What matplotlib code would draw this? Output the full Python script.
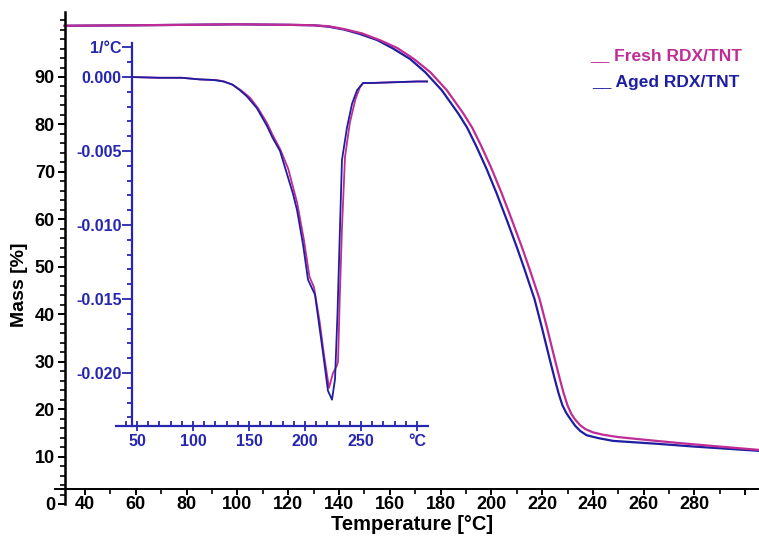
import numpy as np
import matplotlib
matplotlib.use('Agg')
import matplotlib.pyplot as plt
from matplotlib.ticker import FixedLocator, FixedFormatter

plt.rcParams['font.family'] = ['Liberation Sans', 'DejaVu Sans']
plt.rcParams['font.weight'] = 'bold'

# TG curves (main axes)
t_fresh = [32, 60, 80, 100, 120, 130, 136, 142, 149, 156, 163, 169.5, 176, 182.5, 189,
           192.5, 196, 200, 204, 208, 212, 215, 219, 222, 225, 227, 228.5, 230, 231.5,
           233, 235, 237, 240, 244, 250, 265, 277, 290, 305.5]
m_fresh = [100.8, 100.9, 101.0, 101.1, 101.0, 100.9, 100.7, 100.1, 99.2, 97.8, 96.1,
           93.8, 91.0, 87.2, 82.3, 79.3, 75.5, 70.8, 65.6, 60.0, 54.2, 49.6, 43.2, 37.0,
           30.5, 26.3, 23.3, 20.8, 19.0, 17.8, 16.6, 15.8, 15.1, 14.6, 14.1, 13.3, 12.7,
           12.1, 11.4]
t_aged = [32, 60, 80, 100, 120, 130, 136, 142, 148, 155, 161, 168, 174, 180.5, 187,
          190.5, 194, 198, 202, 206, 210, 213, 217, 220, 223, 225, 226.5, 228, 229.5,
          231, 233, 235, 237.5, 242, 248, 265, 280, 305.5]
m_aged = [100.8, 100.9, 101.0, 101.1, 101.0, 100.9, 100.6, 100.0, 99.1, 97.8, 96.1,
          93.8, 91.0, 87.2, 82.3, 79.3, 75.5, 70.8, 65.6, 60.0, 54.2, 49.6, 43.2, 37.0,
          30.5, 26.3, 23.3, 20.8, 19.2, 18.0, 16.5, 15.4, 14.5, 13.9, 13.3, 12.7, 12.1,
          11.2]

# DTG curves (inset)
ti_fresh = [45, 70, 90, 106, 121, 128, 136, 143, 151, 158, 166, 171, 178, 185, 193,
            199, 204, 208, 213, 217, 221.4, 225, 228.5, 229.5, 231, 233, 235.7, 240,
            245, 249, 252, 260, 280, 300, 310]
d_fresh = [0.0, -0.00005, -0.00005, -0.00016, -0.0002, -0.0003, -0.00055, -0.0009,
           -0.0014, -0.0021, -0.0031, -0.0039, -0.0049, -0.0062, -0.0085, -0.0110,
           -0.0135, -0.0142, -0.0165, -0.0188, -0.0210, -0.0200, -0.0195, -0.0192,
           -0.0150, -0.0102, -0.0054, -0.0031, -0.0015, -0.0007, -0.0004, -0.0004,
           -0.00035, -0.0003, -0.0003]
ti_aged = [45, 70, 90, 106, 118, 127, 135, 142, 148, 157, 166, 171, 177.7, 189.3,
           192.9, 198.2, 202.7, 208.9, 216, 220.5, 224.1, 226.8, 229, 231.2, 233,
           237.5, 242, 246.4, 251.8, 260, 280, 300, 309]
d_aged = [0.0, -0.00005, -0.00005, -0.00016, -0.0002, -0.0003, -0.0005, -0.0009,
          -0.0013, -0.0021, -0.0033, -0.0041, -0.0050, -0.0079, -0.0090, -0.0113,
          -0.0137, -0.0147, -0.0186, -0.0212, -0.0218, -0.0204, -0.0160, -0.0102,
          -0.0056, -0.0034, -0.0018, -0.0009, -0.0004, -0.0004, -0.00035, -0.0003,
          -0.0003]

main_xticks = [40, 60, 80, 100, 120, 140, 160, 180, 200, 220, 240, 260, 280, 300]
main_xlabels = ['40', '60', '80', '100', '120', '140', '160', '180', '200', '220',
                '240', '260', '280', '']
main_yticks = [0, 10, 20, 30, 40, 50, 60, 70, 80, 90]
ins_xticks = [50, 100, 150, 200, 250, 300]
ins_xlabels = ['50', '100', '150', '200', '250', '°C']
ins_yticks = [-0.020, -0.015, -0.010, -0.005, 0.0, 0.002]
ins_ylabels = ['-0.020', '-0.015', '-0.010', '-0.005', '0.000', '1/°C']

c_fresh = '#c02c95'
c_aged = '#1e1ea0'
c_ins = '#2626b0'

fig = plt.figure(figsize=(7.59, 5.39), dpi=100)
ax = fig.add_axes([55 / 759, 35 / 539, 704 / 759, 492 / 539])
ax.plot(t_aged, m_aged, color=c_aged, lw=1.6)
ax.plot(t_fresh, m_fresh, color=c_fresh, lw=1.6)
ax.set_xlim(28.2, 305.4)
ax.set_ylim(0, 103.7)
for s in ['top', 'right']:
    ax.spines[s].set_visible(False)
ax.spines['left'].set_position(('data', 32))
ax.spines['bottom'].set_position(('data', 3.1))
ax.spines['left'].set_linewidth(1.8)
ax.spines['bottom'].set_linewidth(1.4)
ax.xaxis.set_major_locator(FixedLocator(main_xticks))
ax.xaxis.set_major_formatter(FixedFormatter(main_xlabels))
ax.xaxis.set_minor_locator(FixedLocator(np.arange(50, 300, 20)))
ax.yaxis.set_major_locator(FixedLocator(main_yticks))
ax.yaxis.set_minor_locator(FixedLocator(np.arange(0, 104, 2)))
ax.tick_params(axis='both', which='major', direction='out', labelsize=13, width=1.4)
ax.tick_params(axis='x', which='major', length=4, pad=1)
ax.tick_params(axis='y', which='major', length=5, pad=2)
ax.tick_params(axis='both', which='minor', direction='out', length=3.5, width=1.2)

fig.text(20 / 759, 1 - 285 / 539, 'Mass [%]', rotation=90, ha='center', va='center',
         fontsize=14, fontweight='bold')
fig.text(412 / 759, 1 - 524 / 539, 'Temperature [°C]', ha='center', va='center',
         fontsize=14.5, fontweight='bold')

fig.text(590 / 759, 1 - 60 / 539, '__ Fresh RDX/TNT', color=c_fresh, fontsize=12.5,
         fontweight='bold', va='baseline')
fig.text(592 / 759, 1 - 87 / 539, '__ Aged RDX/TNT', color=c_aged, fontsize=12.5,
         fontweight='bold', va='baseline')

# inset DTG
ins = fig.add_axes([116 / 759, 113 / 539, 312 / 759, 383 / 539])
ins.patch.set_alpha(0)
ins.plot(ti_fresh, d_fresh, color=c_fresh, lw=1.3)
ins.plot(ti_aged, d_aged, color=c_aged, lw=1.3)
ins.set_xlim(31.25, 309.8)
ins.set_ylim(-0.02358, 0.0023)
for s in ['top', 'right']:
    ins.spines[s].set_visible(False)
ins.spines['left'].set_position(('data', 45.5))
for s in ['left', 'bottom']:
    ins.spines[s].set_color(c_ins)
    ins.spines[s].set_linewidth(1.6)
ins.xaxis.set_major_locator(FixedLocator(ins_xticks))
ins.xaxis.set_major_formatter(FixedFormatter(ins_xlabels))
ins.xaxis.set_minor_locator(FixedLocator(np.arange(40, 311, 10)))
ins.yaxis.set_major_locator(FixedLocator(ins_yticks))
ins.yaxis.set_major_formatter(FixedFormatter(ins_ylabels))
ins.yaxis.set_minor_locator(FixedLocator(np.arange(-0.023, 0.0025, 0.001)))
ins.tick_params(axis='both', which='both', colors=c_ins, labelcolor=c_ins,
                labelsize=11.5, width=1.3)
ins.tick_params(axis='y', which='major', direction='out', length=7, pad=0.5)
ins.tick_params(axis='y', which='minor', direction='out', length=3.5)
ins.tick_params(axis='x', which='major', direction='inout', length=7, pad=2)
ins.tick_params(axis='x', which='minor', direction='in', length=3.5)
for lbl in ins.get_xticklabels() + ins.get_yticklabels():
    lbl.set_fontweight('bold')

fig.savefig('out.png', dpi=100)
